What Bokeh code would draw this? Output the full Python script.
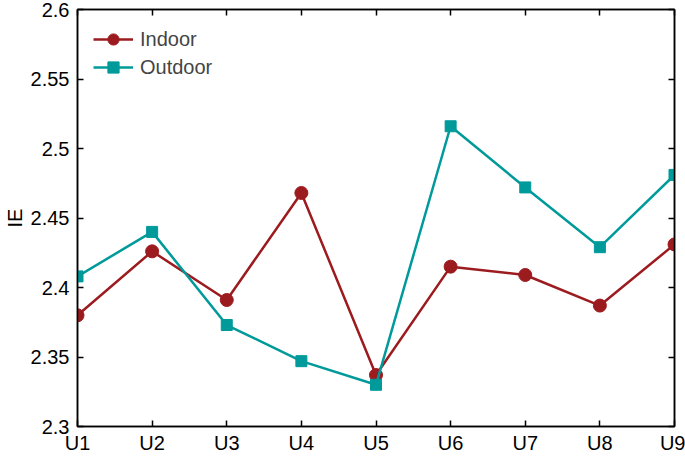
from bokeh.plotting import figure
from bokeh.models import LinearAxis, FixedTicker, CustomJSTickFormatter, Legend, LegendItem
from bokeh.embed import file_html
from bokeh.resources import INLINE

categories = ["U1", "U2", "U3", "U4", "U5", "U6", "U7", "U8", "U9"]
indoor = [2.380, 2.426, 2.391, 2.468, 2.337, 2.415, 2.409, 2.387, 2.431]
outdoor = [2.408, 2.440, 2.373, 2.347, 2.330, 2.516, 2.472, 2.429, 2.481]
y_ticks = [2.3, 2.35, 2.4, 2.45, 2.5, 2.55, 2.6]
y_label = "IE"
series_names = ["Indoor", "Outdoor"]

RED = "#9C1B1F"
TEAL = "#009A9A"
FONT = "Liberation Sans"
FS = "20px"

xs = list(range(1, len(categories) + 1))

p = figure(width=685, height=456, output_backend="svg", toolbar_location=None,
           x_range=(1, len(categories)), y_range=(y_ticks[0], y_ticks[-1]),
           min_border_left=0, min_border_bottom=0, min_border_top=9, min_border_right=11,
           x_axis_type=None, y_axis_type=None)
p.xgrid.visible = False
p.ygrid.visible = False
p.outline_line_color = "black"
p.outline_line_width = 1.5
p.background_fill_color = "white"
p.border_fill_color = "white"

x_overrides = {x: c for x, c in zip(xs, categories)}
yfmt = CustomJSTickFormatter(code="var s = tick.toFixed(2); if (s.endsWith('0')) s = s.slice(0, -1); return s;")


def style_axis(ax, show_labels):
    ax.major_tick_in = 6
    ax.major_tick_out = 0
    ax.minor_tick_line_color = None
    ax.major_tick_line_width = 1.5
    ax.axis_line_width = 1.5
    ax.axis_line_color = "black"
    ax.major_tick_line_color = "black"
    ax.major_label_text_font = FONT
    ax.major_label_text_font_size = FS
    ax.major_label_text_color = "black"
    if not show_labels:
        ax.major_label_text_font_size = "0px"
        ax.major_label_text_alpha = 0
        ax.major_label_standoff = 0


xb = LinearAxis(ticker=FixedTicker(ticks=xs), major_label_overrides=x_overrides)
style_axis(xb, True)
xb.major_label_standoff = 5
p.add_layout(xb, "below")

xt = LinearAxis(ticker=FixedTicker(ticks=xs), major_label_overrides={x: "" for x in xs})
style_axis(xt, False)
p.add_layout(xt, "above")

yl = LinearAxis(ticker=FixedTicker(ticks=y_ticks), formatter=yfmt, axis_label=y_label)
style_axis(yl, True)
yl.major_label_standoff = 8
yl.axis_label_standoff = 2
yl.axis_label_text_font = FONT
yl.axis_label_text_font_size = FS
yl.axis_label_text_font_style = "normal"
yl.axis_label_text_color = "black"
p.add_layout(yl, "left")

yr = LinearAxis(ticker=FixedTicker(ticks=y_ticks),
                major_label_overrides={t: "" for t in y_ticks})
style_axis(yr, False)
p.add_layout(yr, "right")

l1 = p.line(xs, indoor, line_color=RED, line_width=2.5)
s1 = p.scatter(xs, indoor, marker="circle", size=13, fill_color=RED, line_color=RED)
l2 = p.line(xs, outdoor, line_color=TEAL, line_width=2.5)
s2 = p.scatter(xs, outdoor, marker="square", size=11, fill_color=TEAL, line_color=TEAL)

legend = Legend(items=[LegendItem(label=series_names[0], renderers=[l1, s1]),
                       LegendItem(label=series_names[1], renderers=[l2, s2])],
                location="top_left")
legend.border_line_color = None
legend.background_fill_alpha = 0
legend.label_text_font = FONT
legend.label_text_font_size = "20px"
legend.glyph_width = 40
legend.glyph_height = 28
legend.label_height = 20
legend.spacing = -4
legend.label_standoff = 7
legend.margin = 16
legend.padding = 5
p.add_layout(legend, "center")

open("out.html", "w").write(file_html(p, INLINE))
